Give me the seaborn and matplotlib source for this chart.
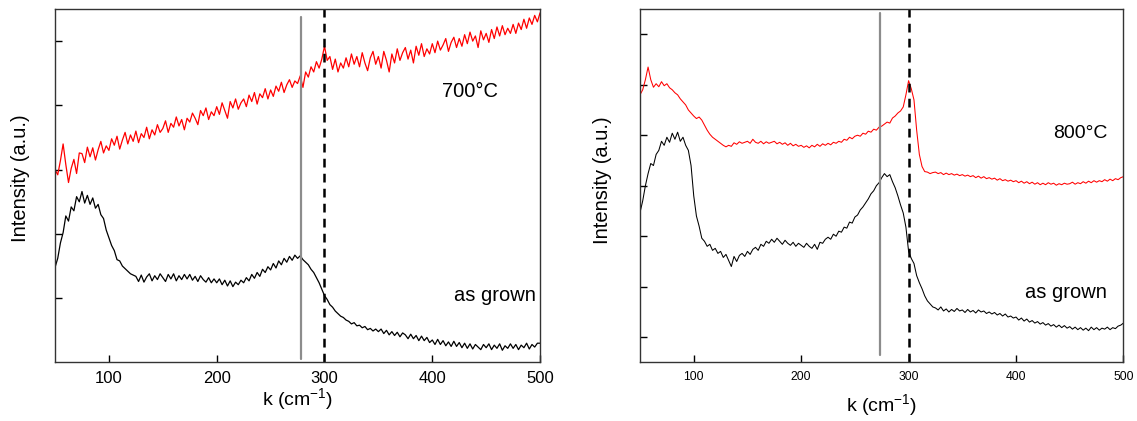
import numpy as np
import pandas as pd
import matplotlib
matplotlib.use("Agg")
import matplotlib.pyplot as plt
import seaborn as sns

sns.set_style("white")
plt.rcParams["font.family"] = ["Liberation Sans", "DejaVu Sans"]
plt.rcParams["mathtext.fontset"] = "custom"
plt.rcParams["mathtext.rm"] = "Liberation Sans"
plt.rcParams["mathtext.it"] = "Liberation Sans:italic"
plt.rcParams["text.color"] = "black"
plt.rcParams["axes.labelcolor"] = "black"

# wavenumber grid (cm^-1), one reading every 2.5 cm^-1
k = np.arange(50, 500.1, 2.5)

# left panel: 700 C anneal (red) and as grown (black)
i_700 = [
    3.00, 2.92, 3.14, 3.40, 3.08, 2.80, 3.02, 3.16, 2.94, 3.26,
    3.25, 3.11, 3.35, 3.20, 3.34, 3.15, 3.31, 3.44, 3.26, 3.37,
    3.30, 3.48, 3.38, 3.52, 3.32, 3.46, 3.58, 3.40, 3.54, 3.44,
    3.60, 3.42, 3.56, 3.50, 3.66, 3.48, 3.62, 3.54, 3.70, 3.58,
    3.64, 3.76, 3.58, 3.72, 3.66, 3.82, 3.68, 3.78, 3.62, 3.80,
    3.74, 3.88, 3.80, 3.70, 3.92, 3.84, 3.96, 3.78, 3.90, 3.84,
    3.98, 3.86, 4.04, 3.92, 3.80, 4.06, 3.96, 4.10, 3.94, 4.04,
    4.10, 3.98, 4.16, 4.06, 4.20, 4.02, 4.18, 4.12, 4.26, 4.10,
    4.24, 4.14, 4.30, 4.22, 4.36, 4.20, 4.32, 4.40, 4.28, 4.38,
    4.34, 4.46, 4.28, 4.52, 4.44, 4.60, 4.52, 4.68, 4.58, 4.72,
    4.92, 4.70, 4.76, 4.56, 4.72, 4.52, 4.66, 4.58, 4.74, 4.60,
    4.80, 4.64, 4.76, 4.60, 4.82, 4.66, 4.54, 4.74, 4.84, 4.64,
    4.76, 4.58, 4.84, 4.70, 4.52, 4.80, 4.66, 4.88, 4.70, 4.82,
    4.90, 4.72, 4.86, 4.66, 4.92, 4.78, 4.96, 4.76, 4.88, 4.80,
    4.96, 4.82, 5.00, 4.86, 4.94, 5.04, 4.84, 4.98, 5.06, 4.90,
    5.04, 4.92, 5.10, 4.96, 5.14, 5.00, 5.08, 4.90, 5.16, 5.02,
    5.12, 4.98, 5.18, 5.04, 5.22, 5.08, 5.24, 5.10, 5.20, 5.12,
    5.26, 5.12, 5.28, 5.18, 5.34, 5.20, 5.36, 5.26, 5.40, 5.30,
    5.44,
]
i_grown_l = [
    1.48, 1.62, 1.86, 2.02, 2.28, 2.20, 2.42, 2.36, 2.58, 2.50,
    2.66, 2.48, 2.60, 2.46, 2.56, 2.40, 2.46, 2.30, 2.24, 2.06,
    1.94, 1.82, 1.74, 1.60, 1.58, 1.50, 1.46, 1.42, 1.38, 1.36,
    1.34, 1.26, 1.36, 1.25, 1.33, 1.38, 1.27, 1.35, 1.29, 1.38,
    1.32, 1.26, 1.37, 1.30, 1.38, 1.27, 1.35, 1.29, 1.37, 1.30,
    1.37, 1.28, 1.34, 1.26, 1.35, 1.29, 1.25, 1.32, 1.24, 1.30,
    1.24, 1.30, 1.21, 1.28, 1.19, 1.27, 1.18, 1.25, 1.21, 1.28,
    1.24, 1.32, 1.27, 1.37, 1.31, 1.40, 1.34, 1.45, 1.40, 1.49,
    1.44, 1.54, 1.47, 1.58, 1.52, 1.62, 1.56, 1.65, 1.59, 1.67,
    1.62, 1.66, 1.60, 1.56, 1.52, 1.45, 1.40, 1.32, 1.24, 1.14,
    1.04, 0.98, 0.90, 0.86, 0.80, 0.76, 0.72, 0.70, 0.66, 0.64,
    0.60, 0.62, 0.57, 0.58, 0.54, 0.56, 0.51, 0.53, 0.49, 0.52,
    0.48, 0.52, 0.45, 0.50, 0.43, 0.48, 0.42, 0.47, 0.40, 0.46,
    0.43, 0.37, 0.44, 0.37, 0.42, 0.34, 0.41, 0.34, 0.39, 0.31,
    0.35, 0.28, 0.36, 0.28, 0.34, 0.26, 0.32, 0.25, 0.33, 0.25,
    0.31, 0.23, 0.30, 0.22, 0.29, 0.21, 0.28, 0.24, 0.20, 0.28,
    0.23, 0.29, 0.20, 0.27, 0.22, 0.29, 0.19, 0.26, 0.22, 0.29,
    0.22, 0.28, 0.20, 0.27, 0.23, 0.30, 0.21, 0.28, 0.24, 0.30,
    0.30,
]

# right panel: 800 C anneal (red) and as grown (black)
i_800 = [
    5.80, 5.90, 6.10, 6.35, 6.10, 5.95, 6.02, 5.96, 6.06, 5.98,
    6.02, 5.94, 5.90, 5.84, 5.80, 5.72, 5.66, 5.60, 5.50, 5.44,
    5.38, 5.33, 5.36, 5.30, 5.20, 5.10, 5.02, 4.96, 4.92, 4.88,
    4.84, 4.80, 4.77, 4.80, 4.78, 4.85, 4.82, 4.87, 4.84, 4.86,
    4.88, 4.84, 4.92, 4.86, 4.84, 4.88, 4.83, 4.87, 4.84, 4.86,
    4.88, 4.83, 4.86, 4.82, 4.85, 4.80, 4.84, 4.79, 4.82, 4.78,
    4.80, 4.76, 4.79, 4.75, 4.80, 4.77, 4.82, 4.78, 4.83, 4.80,
    4.84, 4.81, 4.86, 4.84, 4.88, 4.86, 4.92, 4.90, 4.96, 4.93,
    4.98, 5.00, 4.98, 5.04, 5.02, 5.08, 5.06, 5.12, 5.10, 5.16,
    5.18, 5.22, 5.26, 5.24, 5.34, 5.38, 5.44, 5.48, 5.56, 5.80,
    6.08, 5.92, 5.70, 5.10, 4.62, 4.38, 4.28, 4.27, 4.24, 4.26,
    4.27, 4.24, 4.26, 4.22, 4.25, 4.22, 4.24, 4.21, 4.23, 4.20,
    4.22, 4.19, 4.21, 4.18, 4.20, 4.16, 4.19, 4.15, 4.18, 4.14,
    4.16, 4.13, 4.15, 4.11, 4.14, 4.10, 4.12, 4.09, 4.11, 4.08,
    4.10, 4.06, 4.09, 4.05, 4.08, 4.04, 4.07, 4.03, 4.06, 4.02,
    4.05, 4.02, 4.06, 4.03, 4.05, 4.01, 4.04, 4.02, 4.05, 4.03,
    4.04, 4.07, 4.03, 4.06, 4.04, 4.08, 4.05, 4.09, 4.06, 4.10,
    4.07, 4.10, 4.08, 4.12, 4.09, 4.13, 4.10, 4.14, 4.12, 4.16,
    4.18,
]
i_grown_r = [
    3.47, 3.70, 4.00, 4.24, 4.44, 4.40, 4.62, 4.70, 4.88, 4.80,
    4.96, 4.86, 5.04, 4.92, 5.06, 4.88, 4.96, 4.80, 4.70, 4.40,
    3.80, 3.40, 3.20, 2.96, 2.90, 2.80, 2.84, 2.72, 2.76, 2.66,
    2.70, 2.58, 2.64, 2.52, 2.40, 2.60, 2.50, 2.62, 2.66, 2.60,
    2.70, 2.64, 2.74, 2.78, 2.72, 2.84, 2.80, 2.90, 2.86, 2.94,
    2.88, 2.96, 2.90, 2.84, 2.92, 2.86, 2.82, 2.88, 2.80, 2.86,
    2.82, 2.78, 2.86, 2.80, 2.76, 2.84, 2.74, 2.88, 2.86, 2.94,
    2.98, 2.94, 3.04, 3.00, 3.10, 3.08, 3.18, 3.16, 3.28, 3.26,
    3.38, 3.42, 3.52, 3.58, 3.66, 3.74, 3.84, 3.90, 4.00, 4.06,
    4.16, 4.24, 4.18, 4.22, 4.08, 3.96, 3.80, 3.62, 3.46, 3.18,
    2.70, 2.56, 2.46, 2.22, 2.08, 1.96, 1.82, 1.72, 1.66, 1.60,
    1.58, 1.54, 1.60, 1.52, 1.56, 1.50, 1.55, 1.51, 1.57, 1.52,
    1.54, 1.49, 1.55, 1.50, 1.53, 1.48, 1.54, 1.50, 1.52, 1.47,
    1.50, 1.46, 1.49, 1.44, 1.47, 1.42, 1.46, 1.40, 1.42, 1.38,
    1.40, 1.34, 1.38, 1.32, 1.36, 1.30, 1.33, 1.28, 1.31, 1.26,
    1.29, 1.24, 1.27, 1.22, 1.25, 1.20, 1.24, 1.19, 1.23, 1.18,
    1.21, 1.16, 1.20, 1.15, 1.19, 1.14, 1.18, 1.13, 1.20, 1.15,
    1.19, 1.14, 1.18, 1.16, 1.20, 1.15, 1.19, 1.17, 1.22, 1.24,
    1.28,
]

# reference positions (cm^-1): grey solid line, black dashed line
grey_line = [278, 273]
dash_line = [300, 300]
labels = ["700°C", "800°C"]

fig = plt.figure(figsize=(11.37, 4.21), dpi=100)
ax1 = fig.add_axes([0.0484, 0.139, 0.4266, 0.8397])
ax2 = fig.add_axes([0.5629, 0.139, 0.4252, 0.8397])

df_l = pd.DataFrame({"k": k, "hot": i_700, "grown": i_grown_l})
df_r = pd.DataFrame({"k": k, "hot": i_800, "grown": i_grown_r})

panels = [
    (ax1, df_l, (0, 5.5), [1, 2, 3, 4, 5], 12, (0.01, 0.977), 0.9),
    (ax2, df_r, (0.5, 7.5), [1, 2, 3, 4, 5, 6, 7], 8.7, (0.02, 0.99), 0.75),
]

for n, (ax, df, ylim, yt, tfs, gspan, lw) in enumerate(panels):
    sns.lineplot(data=df, x="k", y="hot", ax=ax, color="#ff0000", lw=lw)
    sns.lineplot(data=df, x="k", y="grown", ax=ax, color="black", lw=lw)
    ax.axvline(grey_line[n], ymin=gspan[0], ymax=gspan[1], color="#8c8c8c", lw=1.6)
    ax.axvline(dash_line[n], color="black", lw=1.8, ls=(0, (3.5, 2.5)))
    ax.set_xlim(50, 500)
    ax.set_ylim(*ylim)
    ax.set_xticks([100, 200, 300, 400, 500])
    ax.set_yticks(yt)
    ax.set_yticklabels([])
    ax.tick_params(direction="in", length=5, width=1, colors="black",
                   labelsize=tfs, labelcolor="black", top=False, right=False,
                   bottom=True, left=True)
    for s in ax.spines.values():
        s.set_color("#333333")
        s.set_linewidth(1.0)
    ax.set_xlabel("k (cm$^{\\mathregular{-1}}$)", fontsize=14, va="center")
    ax.set_ylabel("Intensity (a.u.)", fontsize=14.5, va="center")

ax1.tick_params(axis="x", pad=6)
ax2.tick_params(axis="x", pad=6)
ax1.xaxis.set_label_coords(0.5, -0.103)
ax2.xaxis.set_label_coords(0.5, -0.12)
ax1.yaxis.set_label_coords(-0.072, 0.52)
ax2.yaxis.set_label_coords(-0.077, 0.517)

ax1.text(0.856, 0.766, labels[0], transform=ax1.transAxes, fontsize=14.5,
         ha="center", va="center")
ax1.text(0.992, 0.189, "as grown", transform=ax1.transAxes, fontsize=14.5,
         ha="right", va="center")
ax2.text(0.91, 0.649, labels[1], transform=ax2.transAxes, fontsize=14,
         ha="center", va="center")
ax2.text(0.966, 0.197, "as grown", transform=ax2.transAxes, fontsize=14.5,
         ha="right", va="center")

fig.savefig("out.png", dpi=100)
